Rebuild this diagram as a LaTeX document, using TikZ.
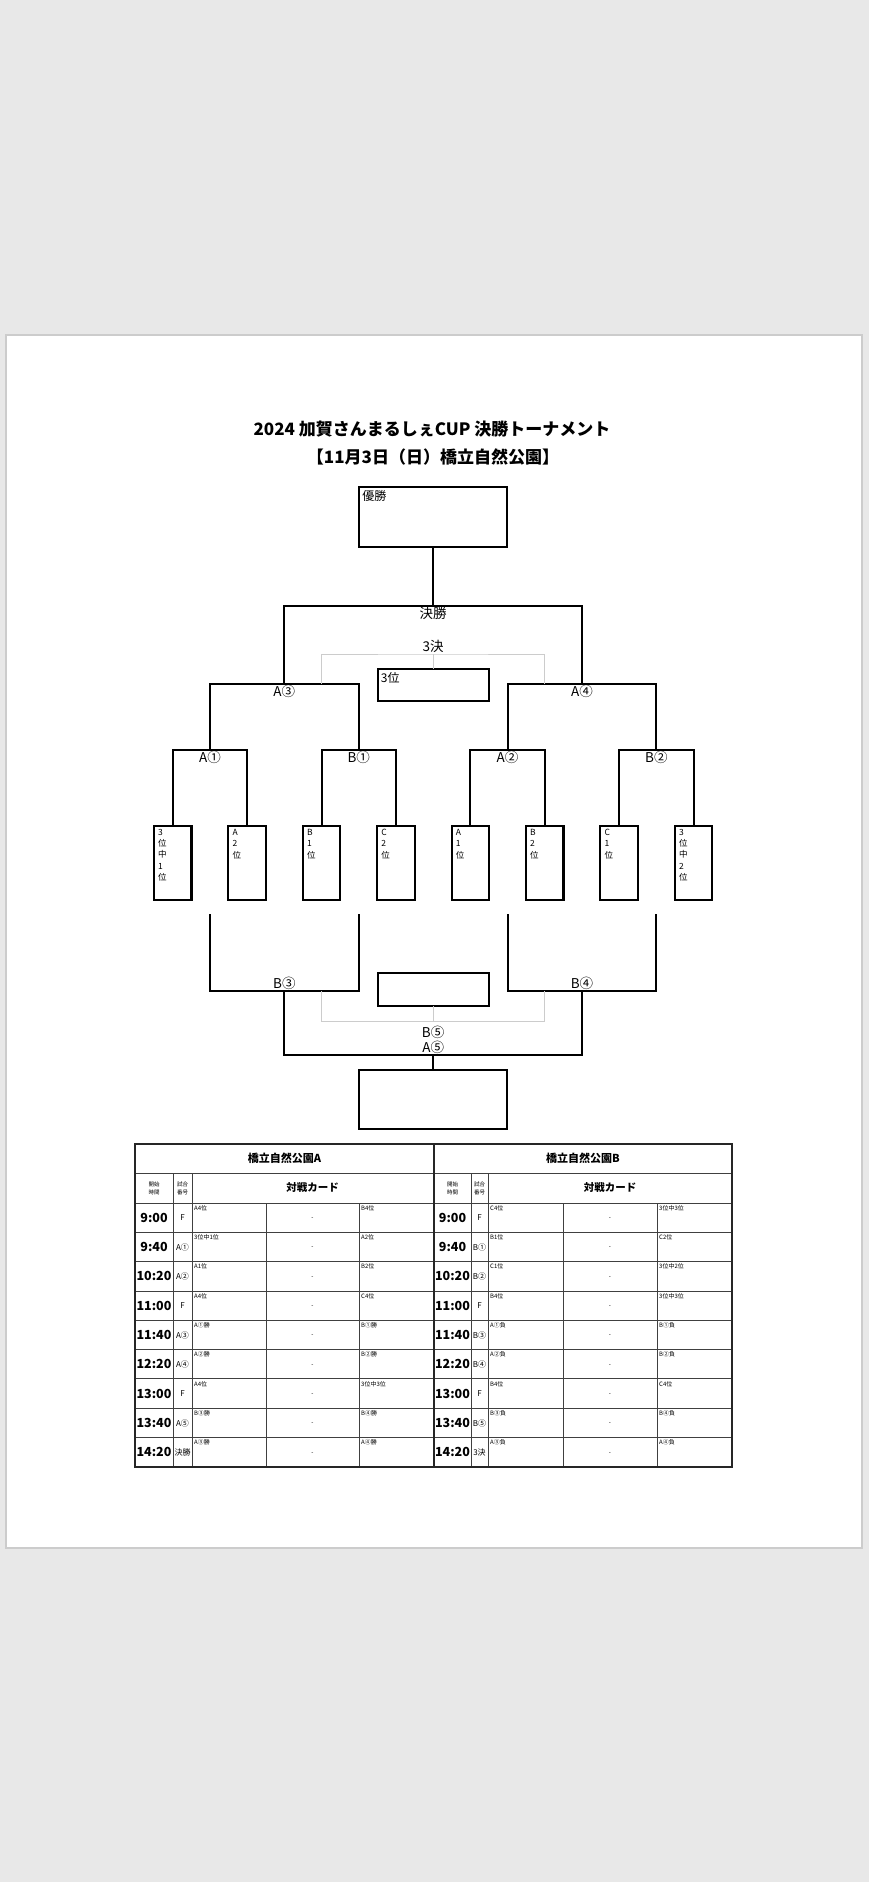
\documentclass[tikz,border=0pt]{standalone}
\usepackage{fontspec}
\setmainfont{Noto Sans CJK JP}
\usetikzlibrary{positioning}
\tikzset{
  paper/.style   ={fill=white,draw=gray!40,line width=1.5pt},
  box/.style     ={draw,line width=2.1pt,anchor=north west,inner sep=0pt,outer sep=0pt},
  leaf/.style    ={box,minimum width=37.5pt,minimum height=74pt},
  bline/.style   ={line width=2.1pt},
  thirdline/.style={gray!40,line width=0.9pt},
  lbl/.style     ={inner sep=1pt,font=\fontsize{13.5}{15}\selectfont},
  boxtxt/.style  ={anchor=north west,inner sep=0pt,font=\fontsize{12}{14}\selectfont},
  leaftxt/.style ={anchor=north west,inner sep=0pt,align=left,font=\fontsize{8.5}{11.3}\selectfont},
  headtxt/.style ={font=\fontsize{17}{20}\selectfont\bfseries},
  tline/.style   ={black!75,line width=1pt},
  touter/.style  ={black!85,line width=2pt},
  parktxt/.style ={font=\fontsize{11}{13}\selectfont\bfseries},
  cardhead/.style={font=\fontsize{10.5}{12}\selectfont\bfseries},
  smalltxt/.style={align=center,inner sep=0pt,font=\fontsize{5.5}{8}\selectfont},
  timetxt/.style ={inner sep=0pt,font=\fontsize{12.5}{14}\selectfont\bfseries},
  numtxt/.style  ={inner sep=0pt,font=\fontsize{8}{9}\selectfont},
  cardtxt/.style ={anchor=north west,inner sep=0pt,font=\fontsize{6}{7}\selectfont},
  dashtxt/.style ={inner sep=0pt,font=\fontsize{6}{7}\selectfont},
}

\begin{document}
\begin{tikzpicture}[x=1pt,y=-1pt]
  \useasboundingbox (0,0) rectangle (869,1882);
  \fill[gray!18] (0,0) rectangle (869,1882);
  \draw[paper] (6,335) rectangle (862,1548);
  % title
  \node[headtxt](title) at (432,429){2024 加賀さんまるしぇCUP 決勝トーナメント};
  \node[headtxt](date) at (433,457){【11月3日（日）橋立自然公園】};
  % boxes
  \node[box,minimum width=148pt,minimum height=60pt](champ) at (359.15,487){};
  \node[boxtxt](tchamp) at ([shift={(3,3)}]champ.north west){優勝};
  \node[box,minimum width=111pt,minimum height=32pt](third) at (377.65,669){};
  \node[boxtxt](tthird) at ([shift={(3,3)}]third.north west){3位};
  \node[box,minimum width=111pt,minimum height=33pt](mid) at (377.65,973){};
  \node[box,minimum width=148pt,minimum height=59pt](last) at (359.15,1070){};
  \foreach \s [count=\k] in {{3\\位\\中\\1\\位},{A\\2\\位},{B\\1\\位},{C\\2\\位},{A\\1\\位},{B\\2\\位},{C\\1\\位},{3\\位\\中\\2\\位}}{
    \node[leaf](l\k) at ({154+74.4*(\k-1)},826){};
    \node[leaftxt](lt\k) at ([shift={(4,3)}]l\k.north west){\s};
  }
  % upper bracket
  \coordinate (a1) at (209.95,750); \coordinate (b1) at (358.75,750);
  \coordinate (a2) at (507.55,750); \coordinate (b2) at (656.35,750);
  \coordinate (a3) at (284.35,684); \coordinate (a4) at (581.95,684);
  \coordinate (fin) at (433.15,606);
  \draw[bline](l1.north)|-(a1)-|(l2.north); \draw[bline](l3.north)|-(b1)-|(l4.north);
  \draw[bline](l5.north)|-(a2)-|(l6.north); \draw[bline](l7.north)|-(b2)-|(l8.north);
  \draw[bline](a1)|-(a3)-|(b1); \draw[bline](a2)|-(a4)-|(b2);
  \draw[bline](a3)|-(fin)-|(a4); \draw[bline](fin)--(champ.south);
  \foreach \c/\t in {a1/A①,b1/B①,a2/A②,b2/B②,a3/A③,a4/A④,fin/決勝}{\node[lbl,below=0pt of \c](n\c){\t};}
  % third place (top)
  \coordinate (g1) at (321.55,684); \coordinate (g2) at (544.75,684); \coordinate (q3) at (433.15,654);
  \draw[thirdline](g1)|-(q3)-|(g2); \draw[thirdline](q3)--(third.north);
  \node[lbl,above=0pt of q3](n3k){3決};
  % lower bracket
  \coordinate (u1) at (209.95,914); \coordinate (u2) at (358.75,914);
  \coordinate (u3) at (507.55,914); \coordinate (u4) at (656.35,914);
  \coordinate (b3) at (284.35,991); \coordinate (b4) at (581.95,991);
  \coordinate (a5) at (433.15,1055);
  \draw[bline](u1)|-(b3)-|(u2); \draw[bline](u3)|-(b4)-|(u4);
  \draw[bline](b3)|-(a5)-|(b4); \draw[bline](a5)--(last.north);
  \node[lbl,above=0pt of b3](nb3){B③}; \node[lbl,above=0pt of b4](nb4){B④};
  \node[lbl,above=0pt of a5](na5){A⑤}; \node[lbl,above=0pt of na5](nb5){B⑤};
  \coordinate (h1) at (321.55,991); \coordinate (h2) at (544.75,991); \coordinate (q5) at (433.15,1021);
  \draw[thirdline](h1)|-(q5)-|(h2); \draw[thirdline](q5)--(mid.south);
  % schedule table
  \draw[tline](135,1173)--(732,1173);
  \foreach \r in {0,...,8}{\draw[tline](135,{1203+29.33*\r})--(732,{1203+29.33*\r});}
  \foreach \x in {173,192,471,488}{\draw[tline](\x,1173)--(\x,1467);}
  \foreach \x in {266,359,563,657}{\draw[tline](\x,1203)--(\x,1467);}
  \draw[touter](135,1144) rectangle (732,1467); \draw[touter](434,1144)--(434,1467);
  \node[parktxt](pA) at (284.5,1158){橋立自然公園A};
  \node[parktxt](pB) at (583,1158){橋立自然公園B};
  \node[smalltxt](hA1) at (154,1188){開始\\時間};   \node[smalltxt](hA2) at (182.5,1188){試合\\番号};
  \node[cardhead](hA3) at (312.5,1188){対戦カード};
  \node[smalltxt](hB1) at (452.5,1188){開始\\時間}; \node[smalltxt](hB2) at (479.5,1188){試合\\番号};
  \node[cardhead](hB3) at (610,1188){対戦カード};
  \foreach \t/\n/\p/\q [count=\i] in {9:00/F/A4位/B4位,9:40/A①/3位中1位/A2位,10:20/A②/A1位/B2位,11:00/F/A4位/C4位,11:40/A③/A①勝/B①勝,12:20/A④/A②勝/B②勝,13:00/F/A4位/3位中3位,13:40/A⑤/B③勝/B④勝,14:20/決勝/A③勝/A④勝}{
    \node[timetxt](ta\i) at (154,{1188.33+29.33*\i}){\t};
    \node[numtxt](na\i) at (182.5,{1188.33+29.33*\i}){\n};
    \node[cardtxt](pa\i) at (194,{1175.67+29.33*\i}){\p};
    \node[dashtxt](da\i) at (312.5,{1189.33+29.33*\i}){-};
    \node[cardtxt](qa\i) at (361,{1175.67+29.33*\i}){\q};
  }
  \foreach \t/\n/\p/\q [count=\i] in {9:00/F/C4位/3位中3位,9:40/B①/B1位/C2位,10:20/B②/C1位/3位中2位,11:00/F/B4位/3位中3位,11:40/B③/A①負/B①負,12:20/B④/A②負/B②負,13:00/F/B4位/C4位,13:40/B⑤/B③負/B④負,14:20/3決/A③負/A④負}{
    \node[timetxt](tb\i) at (452.5,{1188.33+29.33*\i}){\t};
    \node[numtxt](nb\i) at (479.5,{1188.33+29.33*\i}){\n};
    \node[cardtxt](pb\i) at (490,{1175.67+29.33*\i}){\p};
    \node[dashtxt](db\i) at (610,{1189.33+29.33*\i}){-};
    \node[cardtxt](qb\i) at (659,{1175.67+29.33*\i}){\q};
  }
\end{tikzpicture}
\end{document}
